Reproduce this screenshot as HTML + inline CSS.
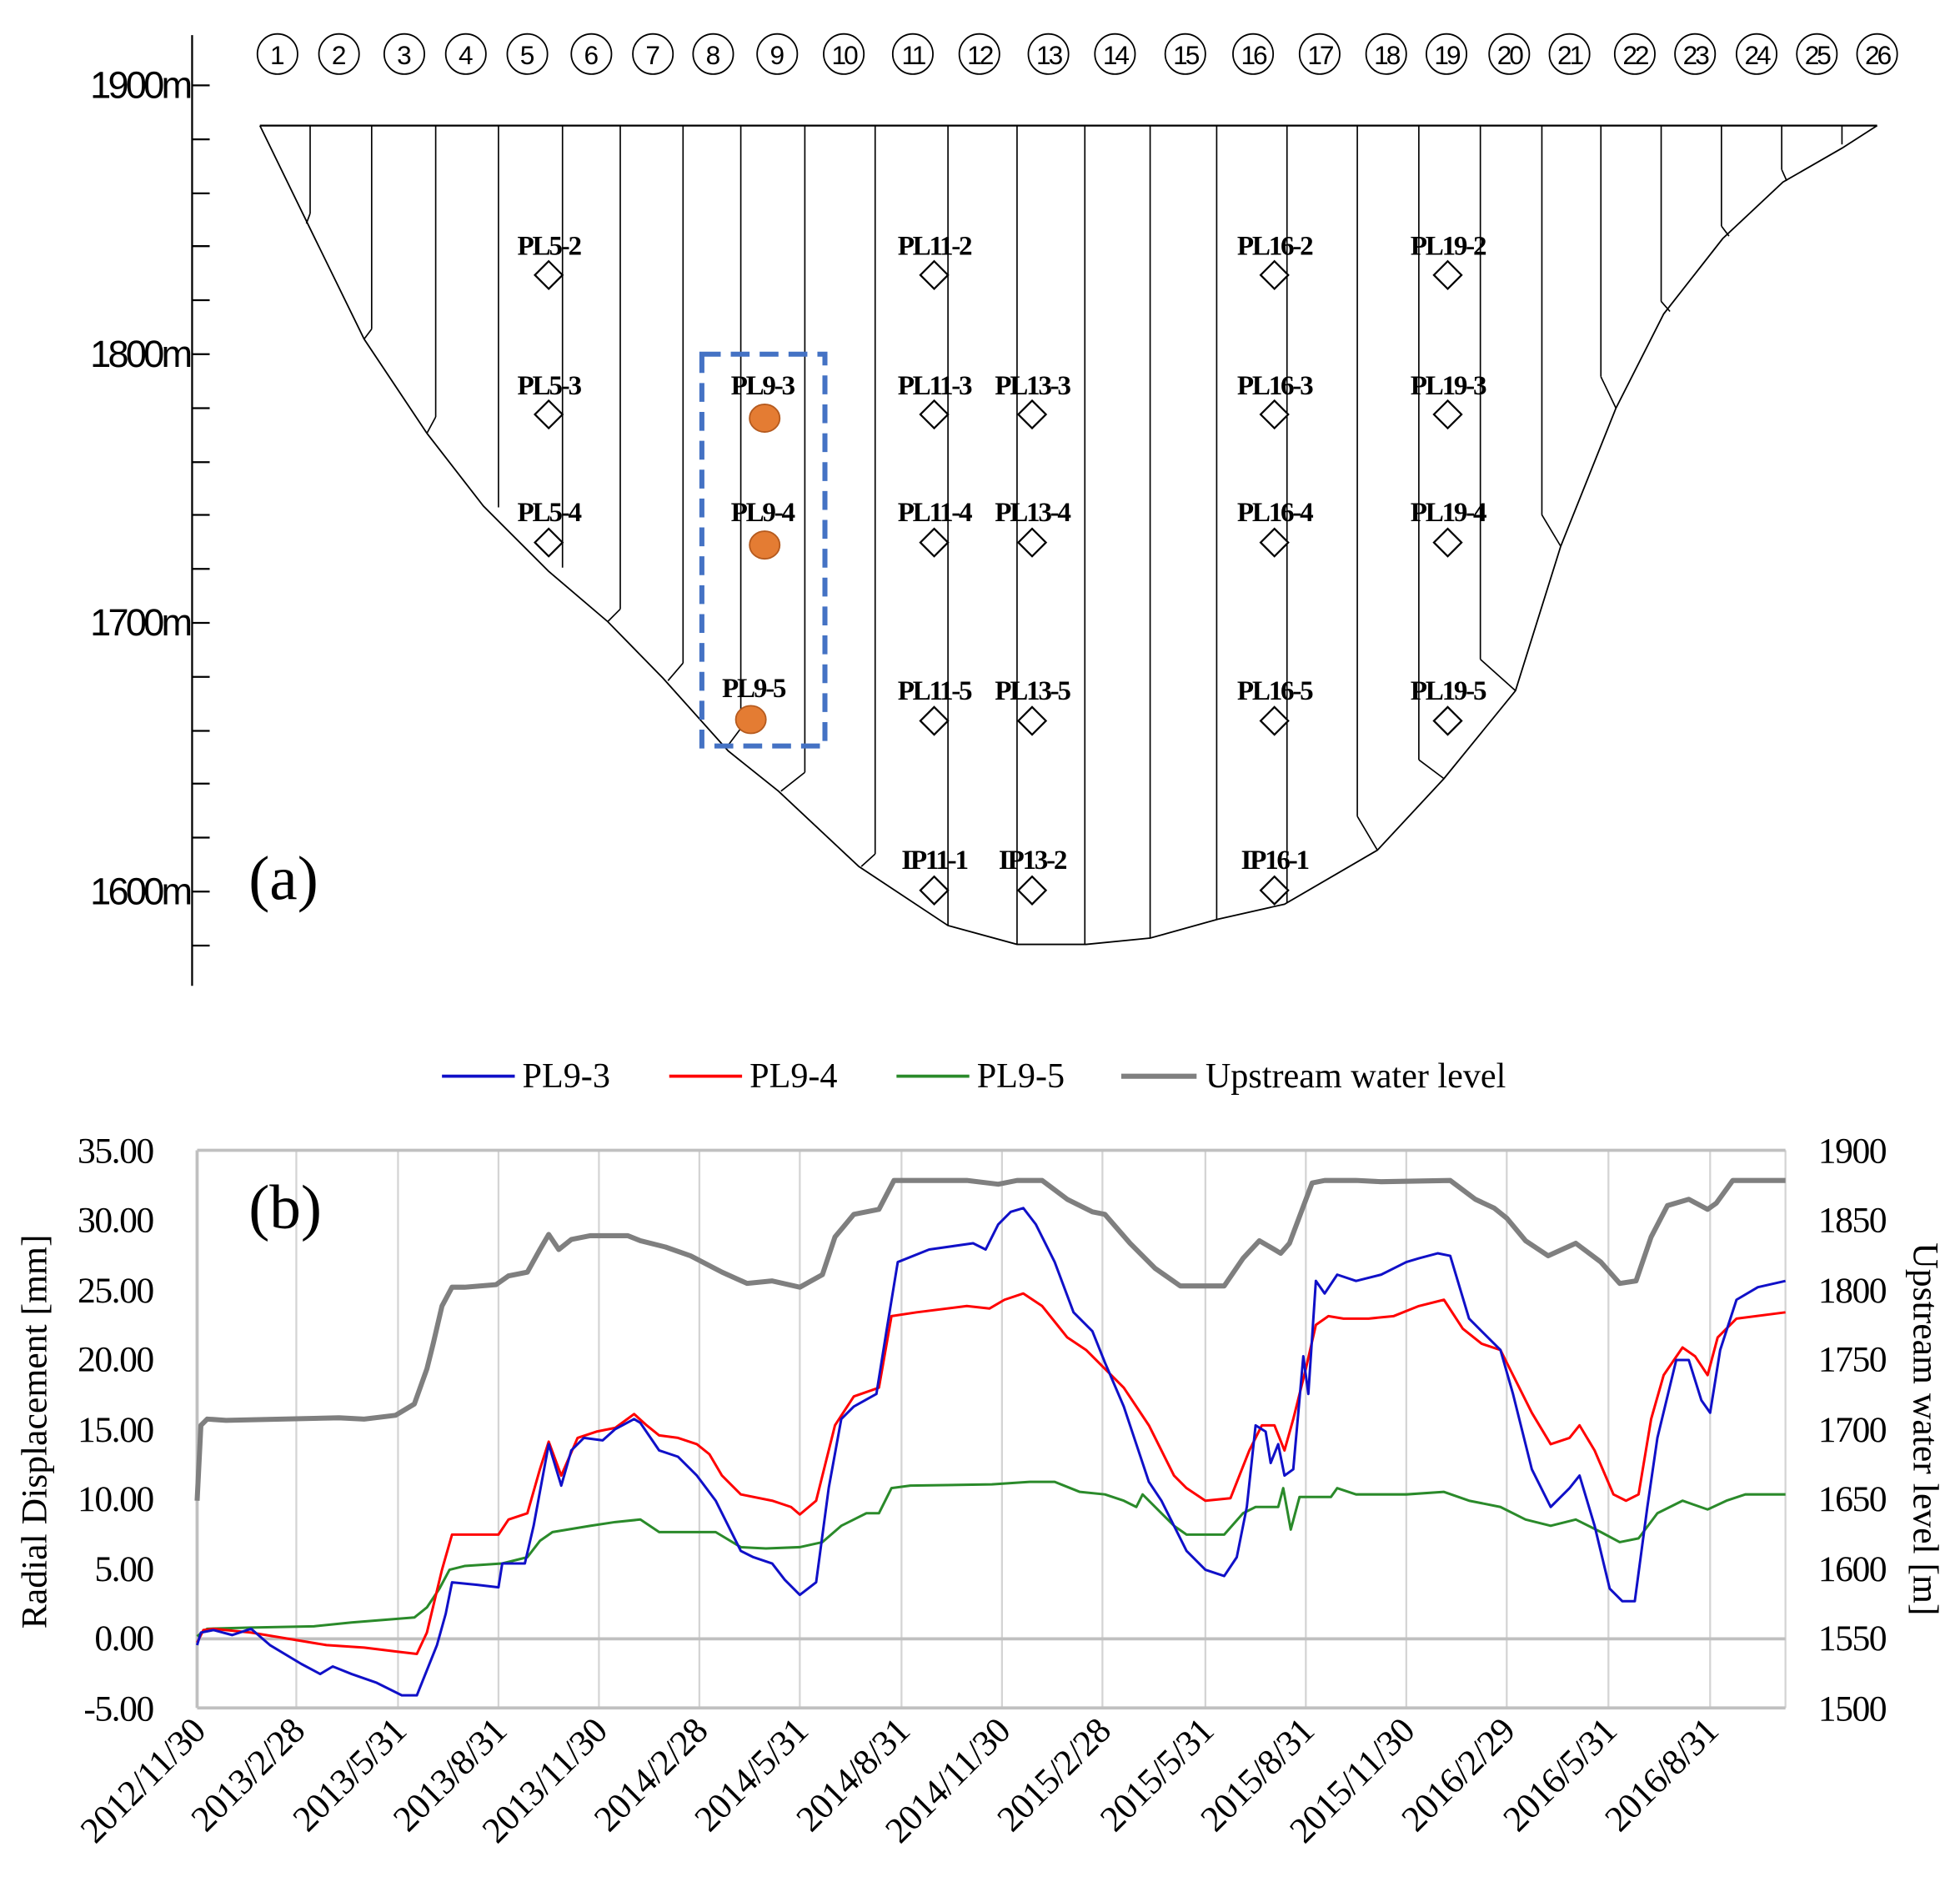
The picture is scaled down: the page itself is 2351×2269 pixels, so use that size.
<!DOCTYPE html>
<html><head><meta charset="utf-8"><style>
html,body{margin:0;padding:0;background:#fff}
svg{display:block}
.ax{font-family:"Liberation Sans",sans-serif;font-size:30px;letter-spacing:-2.5px}
.sr{font-family:"Liberation Serif",serif}
.lb{font-family:"Liberation Serif",serif;font-weight:bold;font-size:22px;letter-spacing:-1.5px}
.cn{font-family:"Liberation Sans",sans-serif;font-size:21px}
</style></head><body>
<svg width="2351" height="2269" viewBox="0 0 1561 1506.6" preserveAspectRatio="none" xmlns="http://www.w3.org/2000/svg">
<line x1="153" y1="28" x2="153" y2="785" stroke="#000" stroke-width="1.5"/>
<g stroke="#000" stroke-width="1.5">
<line x1="153" y1="68" x2="167" y2="68"/><line x1="153" y1="111" x2="167" y2="111"/><line x1="153" y1="154" x2="167" y2="154"/><line x1="153" y1="196" x2="167" y2="196"/><line x1="153" y1="239" x2="167" y2="239"/>
<line x1="153" y1="282" x2="167" y2="282"/><line x1="153" y1="325" x2="167" y2="325"/><line x1="153" y1="368" x2="167" y2="368"/><line x1="153" y1="410" x2="167" y2="410"/><line x1="153" y1="453" x2="167" y2="453"/>
<line x1="153" y1="496" x2="167" y2="496"/><line x1="153" y1="539" x2="167" y2="539"/><line x1="153" y1="582" x2="167" y2="582"/><line x1="153" y1="624" x2="167" y2="624"/><line x1="153" y1="667" x2="167" y2="667"/>
<line x1="153" y1="710" x2="167" y2="710"/><line x1="153" y1="753" x2="167" y2="753"/>
</g>
<g class="ax" text-anchor="end">
<text x="151" y="78">1900m</text><text x="151" y="292">1800m</text><text x="151" y="506">1700m</text><text x="151" y="720">1600m</text>
</g>
<g fill="none" stroke="#000" stroke-width="1.2">
<circle cx="221" cy="43" r="16"/><circle cx="270" cy="43" r="16"/><circle cx="322" cy="43" r="16"/><circle cx="371" cy="43" r="16"/><circle cx="420" cy="43" r="16"/><circle cx="471" cy="43" r="16"/><circle cx="520" cy="43" r="16"/><circle cx="568" cy="43" r="16"/><circle cx="619" cy="43" r="16"/><circle cx="672" cy="43" r="16"/><circle cx="727" cy="43" r="16"/><circle cx="780" cy="43" r="16"/><circle cx="835" cy="43" r="16"/><circle cx="888" cy="43" r="16"/><circle cx="944" cy="43" r="16"/><circle cx="998" cy="43" r="16"/><circle cx="1051" cy="43" r="16"/><circle cx="1104" cy="43" r="16"/><circle cx="1152" cy="43" r="16"/><circle cx="1202" cy="43" r="16"/><circle cx="1250" cy="43" r="16"/><circle cx="1302" cy="43" r="16"/><circle cx="1350" cy="43" r="16"/><circle cx="1399" cy="43" r="16"/><circle cx="1447" cy="43" r="16"/><circle cx="1495" cy="43" r="16"/>
</g>
<g class="cn" text-anchor="middle">
<text x="221" y="51">1</text><text x="270" y="51">2</text><text x="322" y="51">3</text><text x="371" y="51">4</text><text x="420" y="51">5</text><text x="471" y="51">6</text><text x="520" y="51">7</text><text x="568" y="51">8</text><text x="619" y="51">9</text><text x="672" y="51" letter-spacing="-2">10</text><text x="727" y="51" letter-spacing="-2">11</text><text x="780" y="51" letter-spacing="-2">12</text><text x="835" y="51" letter-spacing="-2">13</text><text x="888" y="51" letter-spacing="-2">14</text><text x="944" y="51" letter-spacing="-2">15</text><text x="998" y="51" letter-spacing="-2">16</text><text x="1051" y="51" letter-spacing="-2">17</text><text x="1104" y="51" letter-spacing="-2">18</text><text x="1152" y="51" letter-spacing="-2">19</text><text x="1202" y="51" letter-spacing="-2">20</text><text x="1250" y="51" letter-spacing="-2">21</text><text x="1302" y="51" letter-spacing="-2">22</text><text x="1350" y="51" letter-spacing="-2">23</text><text x="1399" y="51" letter-spacing="-2">24</text><text x="1447" y="51" letter-spacing="-2">25</text><text x="1495" y="51" letter-spacing="-2">26</text>
</g>
<polyline fill="none" stroke="#000" stroke-width="1.5" points="207,100 1495,100"/>
<polyline fill="none" stroke="#000" stroke-width="1.2" points="207,100 245,178 290,270 340,345 385,403 437,455 484,495 528,540 580,598 620,630 684,690 755,737 810,752 865,752 916,747 970,732 1023,720 1097,677 1150,620 1207,550 1243,435 1287,325 1325,250 1372,190 1420,145 1467,118 1495,100"/>
<g stroke="#000" stroke-width="1.1">
<line x1="247" y1="100" x2="247" y2="170"/><line x1="296" y1="100" x2="296" y2="262"/><line x1="347" y1="100" x2="347" y2="332"/><line x1="397" y1="100" x2="397" y2="404"/><line x1="448" y1="100" x2="448" y2="452"/><line x1="494" y1="100" x2="494" y2="485"/><line x1="544" y1="100" x2="544" y2="528"/><line x1="590" y1="100" x2="590" y2="580"/><line x1="641" y1="100" x2="641" y2="615"/><line x1="697" y1="100" x2="697" y2="680"/><line x1="755" y1="100" x2="755" y2="737"/><line x1="810" y1="100" x2="810" y2="752"/><line x1="864" y1="100" x2="864" y2="752"/><line x1="916" y1="100" x2="916" y2="747"/><line x1="969" y1="100" x2="969" y2="732"/><line x1="1025" y1="100" x2="1025" y2="719"/><line x1="1081" y1="100" x2="1081" y2="650"/><line x1="1130" y1="100" x2="1130" y2="605"/><line x1="1179" y1="100" x2="1179" y2="525"/><line x1="1228" y1="100" x2="1228" y2="410"/><line x1="1275" y1="100" x2="1275" y2="300"/><line x1="1323" y1="100" x2="1323" y2="240"/><line x1="1371" y1="100" x2="1371" y2="180"/><line x1="1419" y1="100" x2="1419" y2="135"/><line x1="1467" y1="100" x2="1467" y2="115"/>
<line x1="247" y1="170" x2="244" y2="178"/><line x1="296" y1="262" x2="290" y2="270"/><line x1="347" y1="332" x2="340" y2="345"/><line x1="494" y1="485" x2="484" y2="495"/><line x1="544" y1="528" x2="532" y2="542"/><line x1="590" y1="580" x2="578" y2="596"/><line x1="641" y1="615" x2="622" y2="630"/><line x1="697" y1="680" x2="686" y2="690"/><line x1="1081" y1="650" x2="1097" y2="677"/><line x1="1130" y1="605" x2="1150" y2="620"/><line x1="1179" y1="525" x2="1207" y2="550"/><line x1="1228" y1="410" x2="1243" y2="435"/><line x1="1275" y1="300" x2="1287" y2="325"/><line x1="1323" y1="240" x2="1330" y2="248"/><line x1="1371" y1="180" x2="1377" y2="188"/><line x1="1419" y1="135" x2="1423" y2="144"/>
</g>
<g fill="#fff" stroke="#000" stroke-width="1.5">
<path d="M437 208l11 11-11 11-11-11z"/><path d="M437 319l11 11-11 11-11-11z"/><path d="M437 421l11 11-11 11-11-11z"/>
<path d="M744 208l11 11-11 11-11-11z"/><path d="M744 319l11 11-11 11-11-11z"/><path d="M744 421l11 11-11 11-11-11z"/><path d="M744 563l11 11-11 11-11-11z"/><path d="M744 698l11 11-11 11-11-11z"/>
<path d="M822 319l11 11-11 11-11-11z"/><path d="M822 421l11 11-11 11-11-11z"/><path d="M822 563l11 11-11 11-11-11z"/><path d="M822 698l11 11-11 11-11-11z"/>
<path d="M1015 208l11 11-11 11-11-11z"/><path d="M1015 319l11 11-11 11-11-11z"/><path d="M1015 421l11 11-11 11-11-11z"/><path d="M1015 563l11 11-11 11-11-11z"/><path d="M1015 698l11 11-11 11-11-11z"/>
<path d="M1153 208l11 11-11 11-11-11z"/><path d="M1153 319l11 11-11 11-11-11z"/><path d="M1153 421l11 11-11 11-11-11z"/><path d="M1153 563l11 11-11 11-11-11z"/>
</g>
<g class="lb" text-anchor="middle">
<text x="437" y="203">PL5-2</text><text x="437" y="314">PL5-3</text><text x="437" y="415">PL5-4</text>
<text x="744" y="203">PL11-2</text><text x="744" y="314">PL11-3</text><text x="744" y="415">PL11-4</text><text x="744" y="557">PL11-5</text><text x="744" y="692">IP11-1</text>
<text x="822" y="314">PL13-3</text><text x="822" y="415">PL13-4</text><text x="822" y="557">PL13-5</text><text x="822" y="692">IP13-2</text>
<text x="1015" y="203">PL16-2</text><text x="1015" y="314">PL16-3</text><text x="1015" y="415">PL16-4</text><text x="1015" y="557">PL16-5</text><text x="1015" y="692">IP16-1</text>
<text x="1153" y="203">PL19-2</text><text x="1153" y="314">PL19-3</text><text x="1153" y="415">PL19-4</text><text x="1153" y="557">PL19-5</text>
<text x="607" y="314">PL9-3</text><text x="607" y="415">PL9-4</text><text x="600" y="555">PL9-5</text>
</g>
<g fill="#E47C33" stroke="#B55A1E" stroke-width="1.2">
<ellipse cx="609" cy="333" rx="12" ry="11"/><ellipse cx="609" cy="434" rx="12" ry="11"/><ellipse cx="598" cy="573" rx="12" ry="11"/>
</g>
<rect x="559" y="282" width="98" height="312" fill="none" stroke="#4472C4" stroke-width="4" stroke-dasharray="15,8"/>
<text x="198" y="716" class="sr" font-size="50">(a)</text>

<g stroke-width="2.5">
<line x1="352" y1="857" x2="410" y2="857" stroke="#1010C8"/>
<line x1="533" y1="857" x2="591" y2="857" stroke="#FF0000"/>
<line x1="714" y1="857" x2="772" y2="857" stroke="#2A8A2A"/>
<line x1="893" y1="857" x2="953" y2="857" stroke="#7F7F7F" stroke-width="4"/>
</g>
<g class="sr" font-size="28">
<text x="416" y="866">PL9-3</text><text x="597" y="866">PL9-4</text><text x="778" y="866">PL9-5</text><text x="960" y="866">Upstream water level</text>
</g>
<g stroke="#d4d4d4" stroke-width="1.5">
<line x1="236" y1="916" x2="236" y2="1360"/><line x1="317" y1="916" x2="317" y2="1360"/><line x1="397" y1="916" x2="397" y2="1360"/><line x1="477" y1="916" x2="477" y2="1360"/><line x1="557" y1="916" x2="557" y2="1360"/><line x1="637" y1="916" x2="637" y2="1360"/><line x1="718" y1="916" x2="718" y2="1360"/><line x1="798" y1="916" x2="798" y2="1360"/><line x1="878" y1="916" x2="878" y2="1360"/><line x1="960" y1="916" x2="960" y2="1360"/><line x1="1040" y1="916" x2="1040" y2="1360"/><line x1="1120" y1="916" x2="1120" y2="1360"/><line x1="1200" y1="916" x2="1200" y2="1360"/><line x1="1281" y1="916" x2="1281" y2="1360"/><line x1="1362" y1="916" x2="1362" y2="1360"/><line x1="1422" y1="916" x2="1422" y2="1360"/>
</g>
<g stroke="#c0c0c0" stroke-width="2.5">
<line x1="157" y1="916" x2="1422" y2="916"/><line x1="157" y1="1305" x2="1422" y2="1305"/><line x1="157" y1="1360" x2="1422" y2="1360"/><line x1="157" y1="916" x2="157" y2="1360"/>
</g>
<g class="sr" font-size="29" text-anchor="end" letter-spacing="-1">
<text x="122" y="926">35.00</text><text x="122" y="981">30.00</text><text x="122" y="1037">25.00</text><text x="122" y="1092">20.00</text><text x="122" y="1148">15.00</text><text x="122" y="1203">10.00</text><text x="122" y="1259">5.00</text><text x="122" y="1314">0.00</text><text x="122" y="1370">-5.00</text>
</g>
<g class="sr" font-size="29" letter-spacing="-1">
<text x="1448" y="926">1900</text><text x="1448" y="981">1850</text><text x="1448" y="1037">1800</text><text x="1448" y="1092">1750</text><text x="1448" y="1148">1700</text><text x="1448" y="1203">1650</text><text x="1448" y="1259">1600</text><text x="1448" y="1314">1550</text><text x="1448" y="1370">1500</text>
</g>
<text class="sr" font-size="29" text-anchor="middle" transform="translate(37,1140) rotate(-90)">Radial Displacement [mm]</text>
<text class="sr" font-size="29" text-anchor="middle" transform="translate(1524,1138) rotate(90)">Upstream water level [m]</text>
<g class="sr" font-size="29" text-anchor="end" letter-spacing="-0.5">
<text transform="translate(165,1380) rotate(-45)">2012/11/30</text>
<text transform="translate(244,1380) rotate(-45)">2013/2/28</text>
<text transform="translate(325,1380) rotate(-45)">2013/5/31</text>
<text transform="translate(405,1380) rotate(-45)">2013/8/31</text>
<text transform="translate(485,1380) rotate(-45)">2013/11/30</text>
<text transform="translate(565,1380) rotate(-45)">2014/2/28</text>
<text transform="translate(645,1380) rotate(-45)">2014/5/31</text>
<text transform="translate(726,1380) rotate(-45)">2014/8/31</text>
<text transform="translate(806,1380) rotate(-45)">2014/11/30</text>
<text transform="translate(886,1380) rotate(-45)">2015/2/28</text>
<text transform="translate(968,1380) rotate(-45)">2015/5/31</text>
<text transform="translate(1048,1380) rotate(-45)">2015/8/31</text>
<text transform="translate(1128,1380) rotate(-45)">2015/11/30</text>
<text transform="translate(1208,1380) rotate(-45)">2016/2/29</text>
<text transform="translate(1289,1380) rotate(-45)">2016/5/31</text>
<text transform="translate(1370,1380) rotate(-45)">2016/8/31</text>
</g>
<text x="198" y="978" class="sr" font-size="50">(b)</text>
<g fill="none" stroke-linejoin="round">
<polyline stroke="#7F7F7F" stroke-width="4" points="157,1195 160,1135 165,1130 180,1131 270,1129 290,1130 315,1127 330,1118 340,1090 345,1070 352,1040 360,1025 370,1025 395,1023 405,1016 420,1013 430,995 437,983 445,995 455,987 470,984 500,984 510,988 530,993 550,1000 575,1013 595,1022 615,1020 637,1025 655,1015 665,985 680,967 700,963 712,940 770,940 795,943 810,940 830,940 850,955 870,965 880,967 900,990 920,1010 940,1024 975,1024 990,1002 1003,988 1015,995 1020,998 1027,990 1045,942 1055,940 1080,940 1100,941 1155,940 1175,955 1190,962 1200,970 1215,988 1233,1000 1255,990 1275,1005 1290,1022 1303,1020 1315,985 1328,960 1345,955 1360,963 1367,958 1380,940 1422,940"/>
<polyline stroke="#2A8A2A" stroke-width="2" points="157,1303 165,1297 200,1296 250,1295 280,1292 330,1288 340,1280 350,1265 358,1250 370,1247 400,1245 420,1240 430,1227 440,1220 470,1215 490,1212 510,1210 525,1220 550,1220 570,1220 590,1232 610,1233 637,1232 655,1228 670,1215 690,1205 700,1205 710,1185 725,1183 790,1182 820,1180 840,1180 860,1188 880,1190 895,1195 905,1200 910,1190 925,1205 935,1215 945,1222 975,1222 990,1205 1000,1200 1018,1200 1022,1185 1028,1218 1035,1192 1060,1192 1065,1185 1080,1190 1120,1190 1150,1188 1170,1195 1195,1200 1215,1210 1235,1215 1255,1210 1275,1220 1290,1228 1305,1225 1320,1205 1340,1195 1360,1202 1375,1195 1390,1190 1422,1190"/>
<polyline stroke="#FF0000" stroke-width="2" points="157,1308 162,1298 170,1297 200,1300 230,1305 260,1310 290,1312 315,1315 332,1317 340,1300 352,1250 360,1222 385,1222 397,1222 405,1210 420,1205 430,1170 437,1148 447,1175 460,1145 475,1140 490,1137 505,1126 515,1135 525,1143 540,1145 555,1150 565,1158 575,1175 590,1190 615,1195 630,1200 637,1206 650,1195 665,1135 680,1112 700,1105 710,1048 730,1045 770,1040 788,1042 800,1035 815,1030 830,1040 850,1065 865,1075 880,1090 895,1105 905,1120 915,1135 925,1155 935,1175 945,1185 960,1195 980,1193 995,1155 1005,1135 1015,1135 1023,1155 1030,1130 1040,1090 1048,1055 1058,1048 1070,1050 1090,1050 1110,1048 1130,1040 1150,1035 1165,1058 1180,1070 1195,1075 1205,1095 1220,1125 1235,1150 1250,1145 1258,1135 1270,1155 1285,1190 1295,1195 1305,1190 1315,1130 1325,1095 1340,1073 1350,1080 1360,1095 1368,1065 1383,1050 1422,1045"/>
<polyline stroke="#1010C8" stroke-width="2" points="157,1310 160,1300 170,1298 185,1302 200,1297 215,1310 240,1325 255,1333 265,1327 280,1333 300,1340 320,1350 332,1350 340,1330 348,1310 355,1285 360,1260 380,1262 397,1264 400,1245 412,1245 418,1245 425,1215 437,1150 447,1183 455,1155 465,1145 480,1147 490,1138 505,1130 510,1133 525,1155 540,1160 555,1175 570,1195 580,1215 590,1235 600,1240 615,1245 625,1258 637,1270 650,1260 660,1185 670,1130 680,1120 698,1110 706,1060 715,1005 740,995 775,990 785,995 795,975 805,965 815,962 825,975 840,1005 855,1045 870,1060 880,1085 895,1120 905,1150 915,1180 925,1195 935,1215 945,1235 960,1250 975,1255 985,1240 993,1200 1000,1135 1008,1140 1012,1165 1018,1150 1023,1175 1030,1170 1038,1080 1042,1110 1048,1020 1055,1030 1065,1015 1080,1020 1100,1015 1120,1005 1130,1002 1145,998 1155,1000 1170,1050 1180,1060 1195,1075 1205,1110 1220,1170 1235,1200 1250,1185 1258,1175 1270,1215 1282,1265 1292,1275 1302,1275 1312,1200 1320,1145 1335,1083 1345,1083 1355,1115 1362,1125 1370,1075 1383,1035 1400,1025 1422,1020"/>
</g>
</svg>
</body></html>
